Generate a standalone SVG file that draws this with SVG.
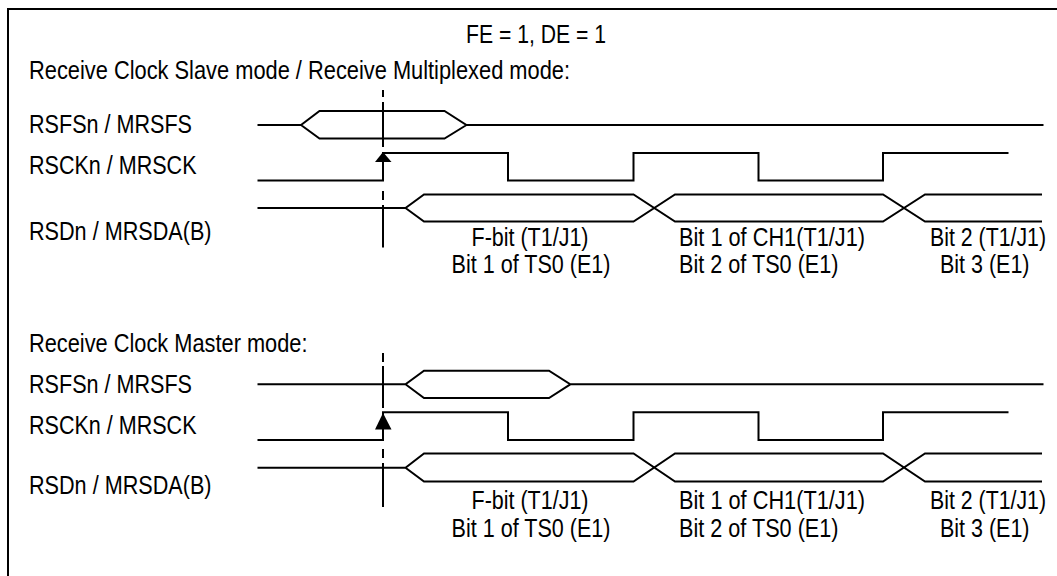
<svg xmlns="http://www.w3.org/2000/svg" width="1057" height="576" viewBox="0 0 1057 576">
<style>
text{font-family:"Liberation Sans",Arial,sans-serif;font-size:25px;fill:#000}
.w{fill:none;stroke:#000;stroke-width:2;stroke-linejoin:miter}
.ref{fill:none;stroke:#000;stroke-width:2}
.ah{fill:#000;stroke:none}
</style>
<rect x="0" y="0" width="1057" height="576" fill="#fff"/>
<rect x="8" y="9" width="1100" height="620" fill="none" stroke="#000" stroke-width="2"/>

<g id="titles">
<text x="466" y="43" textLength="140" lengthAdjust="spacingAndGlyphs">FE = 1, DE = 1</text>
<text x="29" y="79" textLength="541" lengthAdjust="spacingAndGlyphs">Receive Clock Slave mode / Receive Multiplexed mode:</text>
<text x="29" y="351.5" textLength="278.5" lengthAdjust="spacingAndGlyphs">Receive Clock Master mode:</text>
</g>

<g id="slave-rsfs">
<text x="29" y="132.5" textLength="163" lengthAdjust="spacingAndGlyphs">RSFSn / MRSFS</text>
<path class="w" d="M257.5 125H301L319.5 111H444.5L466.5 125H1043.5M301 125L319.5 138.5H444.5L466.5 125"/>
</g>
<g id="slave-rsck">
<text x="29" y="173.5" textLength="167.5" lengthAdjust="spacingAndGlyphs">RSCKn / MRSCK</text>
<path class="w" d="M257.5 180.5H383V153H508V180.5H633.5V153H758.5V180.5H883V153H1008.5"/>
</g>
<g id="slave-rsd">
<text x="29" y="240" textLength="182.5" lengthAdjust="spacingAndGlyphs">RSDn / MRSDA(B)</text>
<path class="w" d="M257.5 208H405.5L424 194.5H633.5L675 221.5H883L925 194.5H1042M405.5 208L424 221.5H633.5L675 194.5H883L925 221.5H1042"/>
<text x="471.5" y="245.5" textLength="117" lengthAdjust="spacingAndGlyphs">F-bit (T1/J1)</text>
<text x="451.5" y="272.5" textLength="159" lengthAdjust="spacingAndGlyphs">Bit 1 of TS0 (E1)</text>
<text x="679" y="245.5" textLength="186" lengthAdjust="spacingAndGlyphs">Bit 1 of CH1(T1/J1)</text>
<text x="679" y="272.5" textLength="159.5" lengthAdjust="spacingAndGlyphs">Bit 2 of TS0 (E1)</text>
<text x="930" y="245.5" textLength="116" lengthAdjust="spacingAndGlyphs">Bit 2 (T1/J1)</text>
<text x="940" y="272.5" textLength="89.5" lengthAdjust="spacingAndGlyphs">Bit 3 (E1)</text>
</g>

<g id="master-rsfs">
<text x="29" y="392.7" textLength="163" lengthAdjust="spacingAndGlyphs">RSFSn / MRSFS</text>
<path class="w" d="M257.5 384.3H405.5L424 370.7H549L570.3 384.3H1043.5M405.5 384.3L424 398H549L570.3 384.3"/>
</g>
<g id="master-rsck">
<text x="29" y="434" textLength="167.5" lengthAdjust="spacingAndGlyphs">RSCKn / MRSCK</text>
<path class="w" d="M257.5 440H383V412.3H508V440H633.5V412.3H758.5V440H883V412.3H1008.5"/>
</g>
<g id="master-rsd">
<text x="29" y="494" textLength="182.5" lengthAdjust="spacingAndGlyphs">RSDn / MRSDA(B)</text>
<path class="w" d="M257.5 467.7H405.5L424 453.5H633.5L675 481.5H883L925 453.5H1042M405.5 467.7L424 481.5H633.5L675 453.5H883L925 481.5H1042"/>
<text x="471.5" y="509" textLength="117" lengthAdjust="spacingAndGlyphs">F-bit (T1/J1)</text>
<text x="451.5" y="536.5" textLength="159" lengthAdjust="spacingAndGlyphs">Bit 1 of TS0 (E1)</text>
<text x="679" y="509" textLength="186" lengthAdjust="spacingAndGlyphs">Bit 1 of CH1(T1/J1)</text>
<text x="679" y="536.5" textLength="159.5" lengthAdjust="spacingAndGlyphs">Bit 2 of TS0 (E1)</text>
<text x="930" y="509" textLength="116" lengthAdjust="spacingAndGlyphs">Bit 2 (T1/J1)</text>
<text x="940" y="536.5" textLength="89.5" lengthAdjust="spacingAndGlyphs">Bit 3 (E1)</text>
</g>

<g id="connectors">
<path class="ref" d="M383 90V97M383 102V147M383 191V200M383 205V247.5"/>
<polygon class="ah" points="383,152 375,162 391.5,162"/>
<path class="ref" d="M383 353V362M383 366V408M383 449V458M383 463V507"/>
<polygon class="ah" points="383,413 375,429.5 391.5,429.5"/>
</g>
</svg>
